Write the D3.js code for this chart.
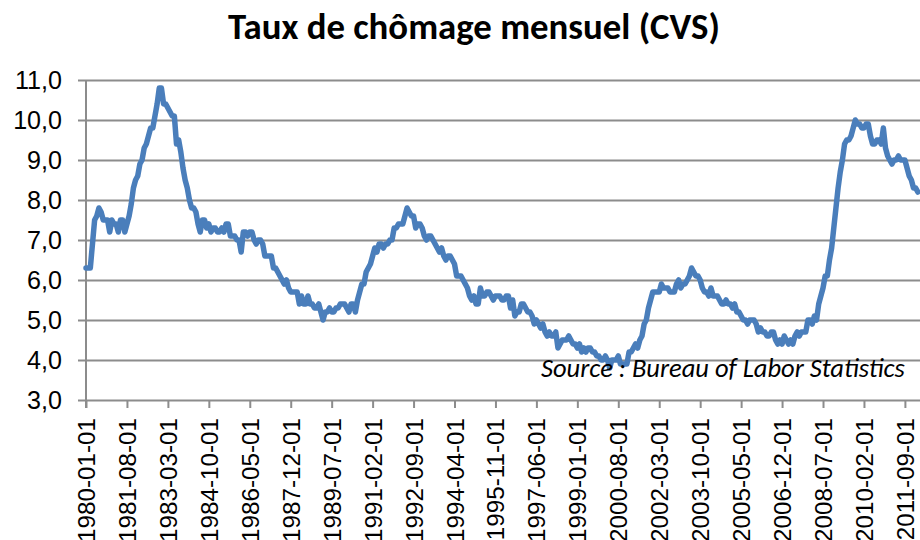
<!DOCTYPE html>
<html lang="fr">
<head>
<meta charset="UTF-8">
<title>Taux de chômage mensuel (CVS)</title>
<style>
  body { margin: 0; background: #fff; }
  svg { font-family: Carlito, Calibri, Lato, "Open Sans", sans-serif; }
  .grille line { stroke: #8c8c8c; stroke-width: 2; }
  .axe-x line { stroke: #8c8c8c; stroke-width: 2; }
  .axe-x text, .axe-y text { fill: #000; }
  .serie { fill: none; stroke: #4a7ebb; stroke-width: 5.5; stroke-linejoin: round; stroke-linecap: round; }
</style>
</head>
<body>
<div id="chart"></div>
<script src="https://d3js.org/d3.v7.min.js"></script>
<script>
// taux de chomage mensuel, CVS, en %
var taux1980s = [
  6.3, 6.3, 6.3, 6.9, 7.5, 7.6, 7.8, 7.7, 7.5, 7.5, 7.5, 7.2,
  7.5, 7.4, 7.4, 7.2, 7.5, 7.5, 7.2, 7.4, 7.6, 7.9, 8.3, 8.5,
  8.6, 8.9, 9.0, 9.3, 9.4, 9.6, 9.8, 9.8, 10.1, 10.4, 10.8, 10.8,
  10.4, 10.4, 10.3, 10.2, 10.1, 10.1, 9.4, 9.5, 9.2, 8.8, 8.5, 8.3,
  8.0, 7.8, 7.8, 7.7, 7.4, 7.2, 7.5, 7.5, 7.3, 7.4, 7.2, 7.3,
  7.3, 7.2, 7.2, 7.3, 7.2, 7.4, 7.4, 7.1, 7.1, 7.1, 7.0, 7.0,
  6.7, 7.2, 7.2, 7.1, 7.2, 7.2, 7.0, 6.9, 7.0, 7.0, 6.9, 6.6,
  6.6, 6.6, 6.6, 6.3, 6.3, 6.2, 6.1, 6.0, 5.9, 6.0, 5.8, 5.7,
  5.7, 5.7, 5.7, 5.4, 5.6, 5.4, 5.4, 5.6, 5.4, 5.4, 5.3, 5.3,
  5.4, 5.2, 5.0, 5.2, 5.2, 5.3, 5.2, 5.2, 5.3, 5.3, 5.4, 5.4
];
var taux1990s = [
  5.4, 5.3, 5.2, 5.4, 5.4, 5.2, 5.5, 5.7, 5.9, 5.9, 6.2, 6.3,
  6.4, 6.6, 6.8, 6.7, 6.9, 6.9, 6.8, 6.9, 6.9, 7.0, 7.0, 7.3,
  7.3, 7.4, 7.4, 7.4, 7.6, 7.8, 7.7, 7.6, 7.6, 7.3, 7.4, 7.4,
  7.3, 7.1, 7.0, 7.1, 7.1, 7.0, 6.9, 6.8, 6.7, 6.8, 6.6, 6.5,
  6.6, 6.6, 6.5, 6.4, 6.1, 6.1, 6.1, 6.0, 5.9, 5.8, 5.6, 5.5,
  5.6, 5.4, 5.4, 5.8, 5.6, 5.6, 5.7, 5.7, 5.6, 5.5, 5.6, 5.6,
  5.6, 5.5, 5.5, 5.6, 5.6, 5.3, 5.5, 5.1, 5.2, 5.2, 5.4, 5.4,
  5.3, 5.2, 5.2, 5.1, 4.9, 5.0, 4.9, 4.8, 4.9, 4.7, 4.6, 4.7,
  4.6, 4.6, 4.7, 4.3, 4.4, 4.5, 4.5, 4.5, 4.6, 4.5, 4.4, 4.4,
  4.3, 4.4, 4.2, 4.3, 4.2, 4.3, 4.3, 4.2, 4.2, 4.1, 4.1, 4.0
];
var taux2000s = [
  4.0, 4.1, 4.0, 3.8, 4.0, 4.0, 4.0, 4.1, 3.9, 3.9, 3.9, 3.9,
  4.2, 4.2, 4.3, 4.4, 4.3, 4.5, 4.6, 4.9, 5.0, 5.3, 5.5, 5.7,
  5.7, 5.7, 5.7, 5.9, 5.8, 5.8, 5.8, 5.7, 5.7, 5.7, 5.9, 6.0,
  5.8, 5.9, 5.9, 6.0, 6.1, 6.3, 6.2, 6.1, 6.1, 6.0, 5.8, 5.7,
  5.7, 5.6, 5.8, 5.6, 5.6, 5.6, 5.5, 5.4, 5.4, 5.5, 5.4, 5.4,
  5.3, 5.4, 5.2, 5.2, 5.1, 5.0, 5.0, 4.9, 5.0, 5.0, 5.0, 4.9,
  4.7, 4.8, 4.7, 4.7, 4.6, 4.6, 4.7, 4.7, 4.5, 4.4, 4.5, 4.4,
  4.6, 4.5, 4.4, 4.5, 4.4, 4.6, 4.7, 4.6, 4.7, 4.7, 4.7, 5.0,
  5.0, 4.9, 5.1, 5.0, 5.4, 5.6, 5.8, 6.1, 6.1, 6.5, 6.8, 7.3,
  7.8, 8.3, 8.7, 9.0, 9.4, 9.5, 9.5, 9.6, 9.8, 10.0, 9.9, 9.9
];
var taux2010s = [
  9.8, 9.8, 9.9, 9.9, 9.6, 9.4, 9.4, 9.5, 9.5, 9.4, 9.8, 9.3,
  9.1, 9.0, 8.9, 9.0, 9.0, 9.1, 9.0, 9.0, 9.0, 8.8, 8.6, 8.5,
  8.3, 8.3, 8.2
];

var etiquettesX = ["1980-01-01", "1981-08-01", "1983-03-01", "1984-10-01", "1986-05-01",
  "1987-12-01", "1989-07-01", "1991-02-01", "1992-09-01", "1994-04-01", "1995-11-01",
  "1997-06-01", "1999-01-01", "2000-08-01", "2002-03-01", "2003-10-01", "2005-05-01",
  "2006-12-01", "2008-07-01", "2010-02-01", "2011-09-01"];
var ticksY = [3, 4, 5, 6, 7, 8, 9, 10, 11];

var titre = "Taux de chômage mensuel (CVS)";
var source = "Source : Bureau of Labor Statistics";

var taux = taux1980s.concat(taux1990s, taux2000s, taux2010s);
var fmtDate = d3.timeFormat("%Y-%m-%d");
var mois = taux.map(function (d, i) { return fmtDate(new Date(1980, i, 1)); });
var donnees = taux.map(function (d, i) { return { mois: mois[i], taux: d }; });

var largeur = 920, hauteur = 540;
var gauche = 86, pasMois = 2.155;

var svg = d3.select("#chart").append("svg")
    .attr("width", largeur)
    .attr("height", hauteur);

var x = d3.scalePoint()
    .domain(mois)
    .range([gauche, gauche + (mois.length - 1) * pasMois]);

var y = d3.scaleLinear()
    .domain([3, 11])
    .range([400, 80]);

var fr = d3.formatLocale({ decimal: ",", thousands: " ", grouping: [3], currency: ["", " €"] });
var fmtY = fr.format(".1f");

// grille horizontale + etiquettes de l'axe Y
var axeY = svg.append("g")
    .attr("class", "grille axe-y")
    .attr("transform", "translate(" + gauche + ",0)")
    .call(d3.axisLeft(y).tickValues(ticksY).tickFormat(fmtY)
        .tickSizeInner(-(largeur - gauche)).tickSizeOuter(0).tickPadding(24));
axeY.select(".domain").remove();
axeY.selectAll(".tick line").attr("x1", -8);
axeY.selectAll("text").style("font-size", "24px");

// axe X
var axeX = svg.append("g")
    .attr("class", "axe-x")
    .attr("transform", "translate(0," + y(3) + ")")
    .call(d3.axisBottom(x).tickValues(etiquettesX).tickSizeInner(8).tickSizeOuter(0));
axeX.select(".domain").remove();
axeX.selectAll("text")
    .attr("transform", "rotate(-90)")
    .attr("text-anchor", "end")
    .attr("x", -18)
    .attr("y", 0)
    .attr("dy", "0.35em")
    .style("font-size", "24px");

// axe vertical
svg.append("line")
    .attr("x1", gauche).attr("x2", gauche)
    .attr("y1", y(11)).attr("y2", y(3) + 8)
    .attr("stroke", "#8c8c8c").attr("stroke-width", 2);

// courbe
var ligne = d3.line()
    .x(function (d) { return x(d.mois); })
    .y(function (d) { return y(d.taux); });

svg.append("path")
    .datum(donnees)
    .attr("class", "serie")
    .attr("d", ligne);

// titre et source
var tTitre = svg.append("text")
    .attr("x", 474).attr("y", 39)
    .attr("text-anchor", "middle")
    .style("font-weight", "bold")
    .style("font-size", "34px")
    .text(titre);

var tSource = svg.append("text")
    .attr("x", 541).attr("y", 377)
    .style("font-style", "italic")
    .style("font-size", "24px")
    .text(source);

// ajuste la taille de police a la largeur du modele
function ajuster(sel, cible) {
    var l = sel.node().getComputedTextLength();
    var fs = parseFloat(sel.style("font-size"));
    return fs * cible / l;
}
tTitre.style("font-size", ajuster(tTitre, 492) + "px");
tSource.style("font-size", ajuster(tSource, 364) + "px");
var fsY = ajuster(axeY.select(".tick:last-of-type text"), 47);
axeY.selectAll("text").style("font-size", fsY + "px");
var fsX = ajuster(axeX.select(".tick text"), 124);
axeX.selectAll("text").style("font-size", fsX + "px");
</script>
</body>
</html>
